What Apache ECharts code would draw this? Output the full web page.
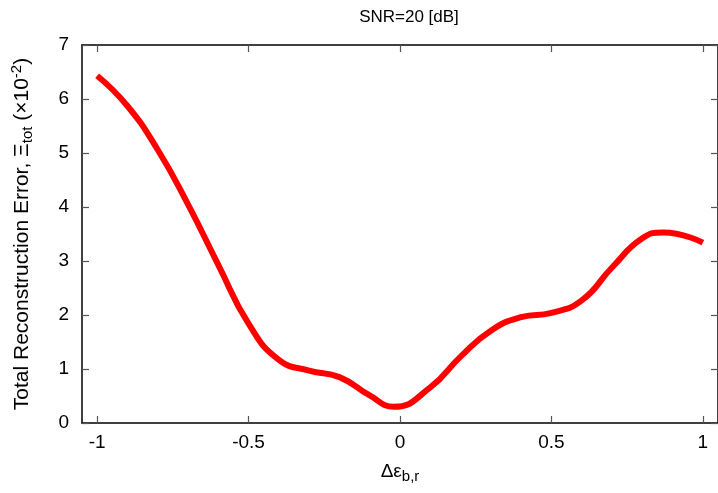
<!DOCTYPE html>
<html>
<head>
<meta charset="utf-8">
<script src="https://cdn.jsdelivr.net/npm/echarts@6/dist/echarts.min.js"></script>
<style>html,body{margin:0;padding:0;background:#fff;}#c{width:718px;height:493px;}</style>
</head>
<body>
<div id="c"></div>
<script>
var xValues = [-1, -0.9, -0.8, -0.7, -0.6, -0.5, -0.4, -0.3, -0.2, -0.1, -0.02, 0.1, 0.2, 0.3, 0.4, 0.5, 0.6, 0.7, 0.8, 0.87, 1.0];
var yValues = [6.43, 5.87, 5.06, 4.05, 2.93, 1.84, 1.17, 0.97, 0.85, 0.51, 0.30, 0.66, 1.23, 1.71, 1.96, 2.04, 2.27, 2.88, 3.42, 3.53, 3.34];
var xTicks = [-1, -0.5, 0, 0.5, 1];

var data = xValues.map(function (x, i) { return [x, yValues[i]]; });
var font = 'Liberation Sans, Arial, sans-serif';

var chart = echarts.init(document.getElementById('c'), null, {renderer: 'canvas'});
chart.setOption({
  animation: false,
  backgroundColor: '#fff',
  title: {
    text: 'SNR=20 [dB]',
    left: 404, top: 4, textAlign: 'center',
    textStyle: {fontFamily: font, fontSize: 17, fontWeight: 'normal', color: '#000'}
  },
  grid: {left: 82, top: 45, width: 640, height: 378, show: false},
  xAxis: [{
    type: 'value', min: -1.05, max: 1.05, position: 'bottom',
    axisLine: {onZero: false, lineStyle: {color: '#000', width: 1.5}},
    axisTick: {inside: true, length: 7, customValues: xTicks, lineStyle: {color: '#555', width: 1.2}},
    axisLabel: {customValues: xTicks, margin: 10, fontFamily: font, fontSize: 19, color: '#000',
      formatter: function (v) { return String(v); }},
    splitLine: {show: false},
    name: '{n|\u0394\u03b5}{s|b,r}',
    nameLocation: 'middle', nameGap: 37,
    nameTextStyle: {rich: {
      n: {fontFamily: font, fontSize: 19, color: '#000', lineHeight: 24},
      s: {fontFamily: font, fontSize: 15, color: '#000', lineHeight: 24, padding: [9, 0, 0, 0]}
    }}
  }, {
    type: 'value', min: -1.05, max: 1.05, position: 'top',
    axisLine: {onZero: false, lineStyle: {color: '#000', width: 1.5}},
    axisTick: {inside: true, length: 7, customValues: xTicks, lineStyle: {color: '#555', width: 1.2}},
    axisLabel: {show: false}, splitLine: {show: false}
  }],
  yAxis: [{
    type: 'value', min: 0, max: 7, interval: 1, position: 'left',
    axisLine: {show: true, onZero: false, lineStyle: {color: '#000', width: 1.5}},
    axisTick: {show: true, inside: true, length: 7, lineStyle: {color: '#555', width: 1.2}},
    axisLabel: {margin: 13, fontFamily: font, fontSize: 19, color: '#000'},
    splitLine: {show: false},
    name: '{n|Total Reconstruction Error, \u039e}{s|tot}{n| (\u00d710}{p|-2}{n|)}',
    nameLocation: 'middle', nameGap: 47, nameRotate: 90,
    nameTextStyle: {rich: {
      n: {fontFamily: font, fontSize: 21, color: '#000', lineHeight: 26},
      s: {fontFamily: font, fontSize: 15, color: '#000', lineHeight: 26, padding: [11, 0, 0, 0]},
      p: {fontFamily: font, fontSize: 15, color: '#000', lineHeight: 26, padding: [0, 0, 11, 0]}
    }}
  }, {
    type: 'value', min: 0, max: 7, interval: 1, position: 'right',
    axisLine: {show: true, onZero: false, lineStyle: {color: '#000', width: 1.5}},
    axisTick: {show: true, inside: true, length: 7, lineStyle: {color: '#555', width: 1.2}},
    axisLabel: {show: false}, splitLine: {show: false}
  }],
  series: [{
    type: 'line', data: data, smooth: 0.5, showSymbol: false,
    lineStyle: {color: '#ff0000', width: 6, join: 'round', cap: 'butt'}, itemStyle: {color: '#ff0000'}
  }]
});
</script>
</body>
</html>
